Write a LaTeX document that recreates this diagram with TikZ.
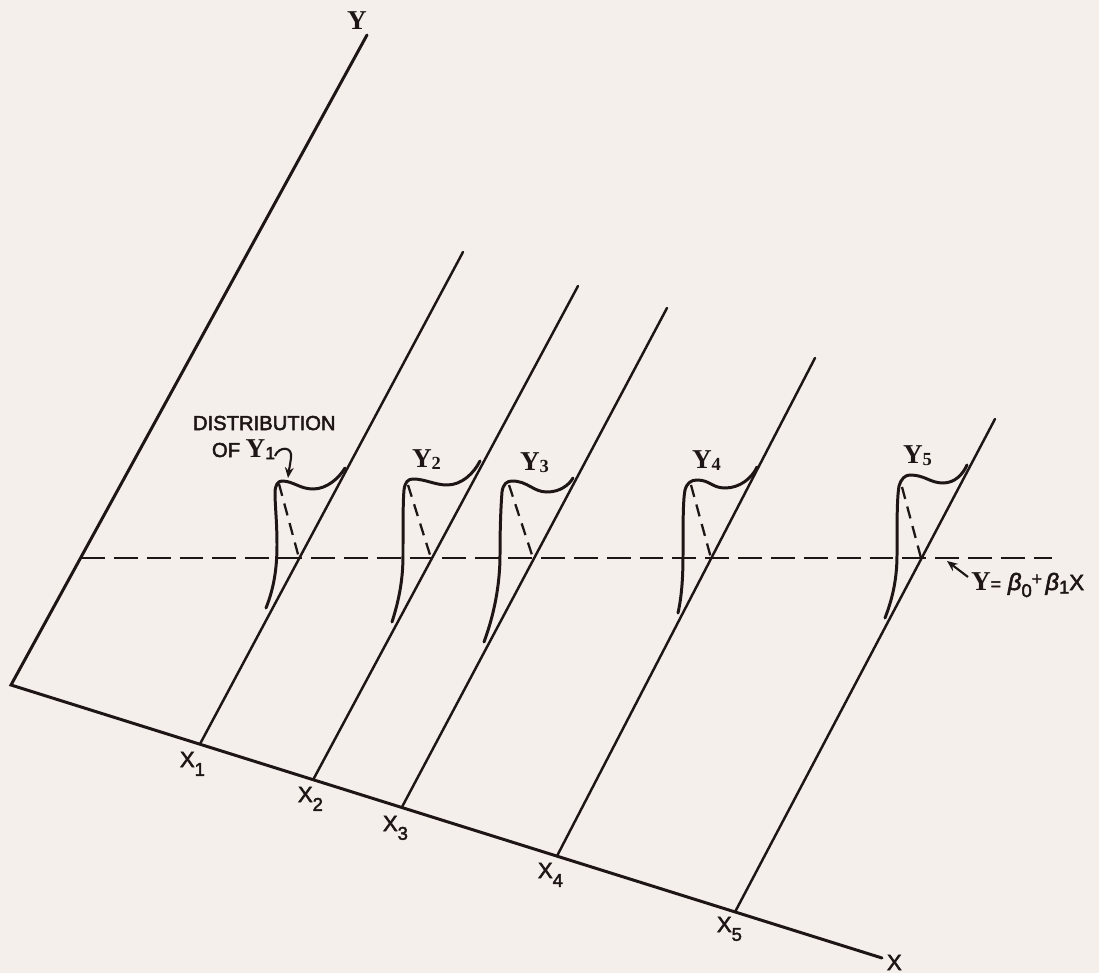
\documentclass[tikz,border=0pt]{standalone}
\usepackage{fontspec}
\setmainfont{Liberation Sans}
\newfontfamily\labfont{Liberation Sans}[FakeBold=2.5]
\newfontfamily\serifbf{Liberation Serif}
\usetikzlibrary{arrows.meta}
\definecolor{bgcol}{RGB}{244,239,234}
\definecolor{ink}{RGB}{30,22,22}
\newcommand\Ybf{{\serifbf\bfseries\fontsize{15.5}{15}\selectfont Y}}
\newcommand\ysub[1]{\raisebox{-1.2pt}{\serifbf\bfseries\fontsize{10.5}{10}\selectfont #1}}
\newcommand\xlab[1]{X\raisebox{-5pt}{\fontsize{10.5}{10}\selectfont #1}}
\begin{document}
\begin{tikzpicture}[x=0.02cm,y=-0.02cm,
  axisline/.style={ink,line width=1.7pt,line cap=round},
  xline/.style={ink,line width=1.4pt,line cap=round},
  distcurve/.style={ink,line width=1.7pt,line cap=round},
  regline/.style={ink,line width=1.6pt,dash pattern=on 13.6pt off 5.1pt},
  meanline/.style={ink,line width=1.3pt,dash pattern=on 7pt off 4.5pt},
  lab/.style={inner sep=0pt,outer sep=0pt,text=ink,anchor=base west},
  xlabel/.style={lab,font=\labfont\fontsize{12.5}{12}\selectfont},
  ptr/.style={ink,line width=1.2pt,-{Stealth[length=6pt,width=5pt]}}]
\fill[bgcol] (0,0) rectangle (1099,973);
\useasboundingbox (0,0) rectangle (1099,973);
% axes
\coordinate (O) at (11,685);
\coordinate (Yend) at (367,35);
\coordinate (Xend) at (882,958);
\draw[axisline] (Yend) -- (O) -- (Xend);
% lines parallel to Y axis
\coordinate (b1) at (200,744); \coordinate (t1) at (463,252);
\coordinate (b2) at (313,780); \coordinate (t2) at (578,286);
\coordinate (b3) at (402,807); \coordinate (t3) at (667,308);
\coordinate (b4) at (557,856); \coordinate (t4) at (815,358);
\coordinate (b5) at (735,912); \coordinate (t5) at (995,419);
\foreach \i in {1,...,5} {\draw[xline] (b\i) -- (t\i);}
% regression line
\coordinate (r0) at (81,558);
\coordinate (r1) at (1052,558);
\draw[regline] (r0) -- (r1);
% distributions
\draw[distcurve] (266,608) .. controls (274,588) and (277,568) .. (277,545) .. controls (277,522) and (275,505) .. (275,493) .. controls (275,485) and (278,481) .. (282,481) .. controls (293,481) and (300,489) .. (313,489) .. controls (327,489) and (339,478) .. (345,468);
\draw[distcurve] (392,622) .. controls (399,600) and (403,580) .. (403,555) .. controls (403,525) and (403,500) .. (404,490) .. controls (405,482) and (408,479) .. (413,479) .. controls (425,479) and (435,485) .. (447,485) .. controls (462,485) and (474,473) .. (480,461);
\draw[distcurve] (484,642) .. controls (494,615) and (500,585) .. (500,555) .. controls (500,525) and (501,505) .. (502,492) .. controls (503,484) and (507,481) .. (512,481) .. controls (528,481) and (533,492) .. (547,492) .. controls (560,492) and (569,485) .. (573,478);
\draw[distcurve] (678,613) .. controls (682,595) and (683,575) .. (683,555) .. controls (683,525) and (683,500) .. (685,490) .. controls (687,483) and (691,480) .. (697,480) .. controls (710,480) and (712,488) .. (725,488) .. controls (740,488) and (752,478) .. (757,467);
\draw[distcurve] (885,618) .. controls (892,600) and (897,580) .. (897,555) .. controls (897,520) and (897,498) .. (899,486) .. controls (901,479) and (905,475) .. (910,475) .. controls (925,475) and (930,483) .. (943,483) .. controls (955,483) and (963,474) .. (967,465);
% mean dashed segments
\coordinate (m1) at (279,484); \coordinate (c1) at (299,558);
\coordinate (m2) at (408,485); \coordinate (c2) at (431,558);
\coordinate (m3) at (509,485); \coordinate (c3) at (533,558);
\coordinate (m4) at (691,485); \coordinate (c4) at (711,558);
\coordinate (m5) at (902,487); \coordinate (c5) at (921,558);
\foreach \i in {1,...,5} {\draw[meanline] (m\i) -- (c\i);}
% labels
\node[lab] (ylab) at (347,30) {\Ybf};
\node[lab,font=\labfont\fontsize{11.5}{13}\selectfont] (dist) at (193,430) {DISTRIBUTION};
\node[lab,font=\labfont\fontsize{11.5}{13}\selectfont] (of) at (212,457) {OF \Ybf\raisebox{-1.2pt}{\labfont\fontsize{10}{10}\selectfont 1}};
\node[lab] (y2) at (412,467) {\Ybf\ysub{2}};
\node[lab] (y3) at (520,470) {\Ybf\ysub{3}};
\node[lab] (y4) at (692,468) {\Ybf\ysub{4}};
\node[lab] (y5) at (903,463) {\Ybf\ysub{5}};
\coordinate (a0) at (275,456);
\coordinate (a1) at (288,478);
\draw[ptr] (a0) .. controls (279,446) and (293,446) .. (291,458) .. controls (290,465) and (289,470) .. (a1);
\node[xlabel] (x1) at (180,767) {\xlab{1}};
\node[xlabel] (x2) at (298,802) {\xlab{2}};
\node[xlabel] (x3) at (383,831) {\xlab{3}};
\node[xlabel] (x4) at (538,878) {\xlab{4}};
\node[xlabel] (x5) at (717,932) {\xlab{5}};
\node[xlabel] (xend) at (887,970) {X};
\node[lab,font=\labfont] (eq) at (971,590) {\Ybf{\fontsize{10}{10}\selectfont=}\hspace{4pt}{\fontsize{13.5}{13}\selectfont\itshape β}\raisebox{-4pt}{\fontsize{10.5}{10}\selectfont 0}\raisebox{3pt}{\fontsize{10}{10}\selectfont +}\hspace{2pt}{\fontsize{13.5}{13}\selectfont\itshape β}\raisebox{-2pt}{\fontsize{10.5}{10}\selectfont 1}{\fontsize{12.5}{12}\selectfont X}};
\coordinate (e0) at (968,577);
\coordinate (e1) at (947,561);
\draw[ptr] (e0) -- (e1);
\end{tikzpicture}
\end{document}
